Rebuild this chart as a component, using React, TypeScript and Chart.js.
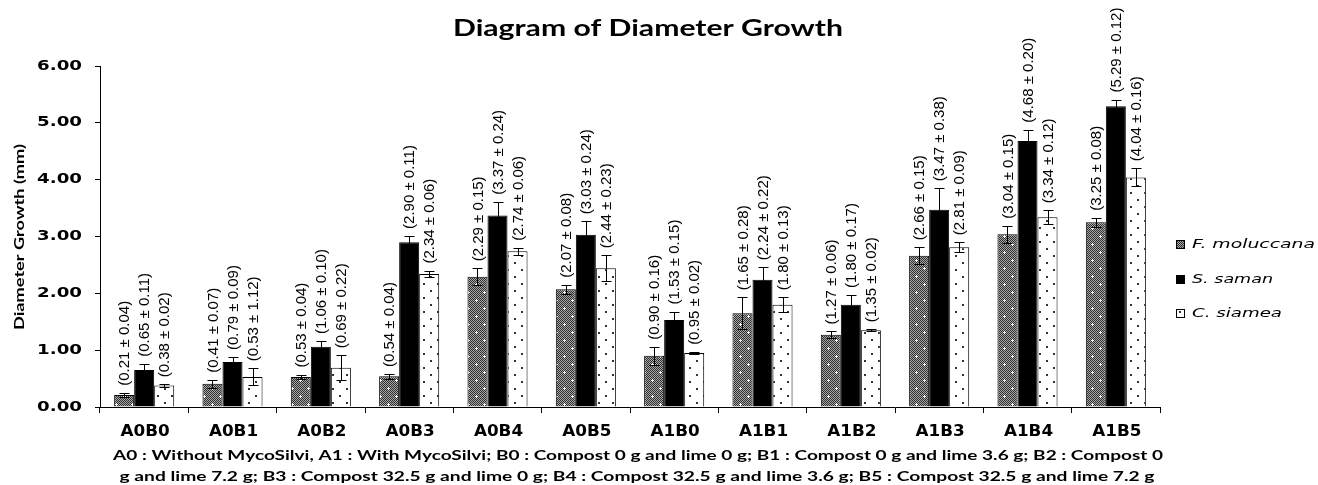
import React, { useEffect, useRef } from "react";
import { Chart, registerables } from "chart.js";

Chart.register(...registerables);

// Treatment combinations along the x axis
const categories = ["A0B0", "A0B1", "A0B2", "A0B3", "A0B4", "A0B5", "A1B0", "A1B1", "A1B2", "A1B3", "A1B4", "A1B5"];

// Mean diameter growth (mm) and standard deviation per species
const moluccanaMean = [0.21, 0.41, 0.53, 0.54, 2.29, 2.07, 0.9, 1.65, 1.27, 2.66, 3.04, 3.25];
const moluccanaSd = [0.04, 0.07, 0.04, 0.04, 0.15, 0.08, 0.16, 0.28, 0.06, 0.15, 0.15, 0.08];
const samanMean = [0.65, 0.79, 1.06, 2.9, 3.37, 3.03, 1.53, 2.24, 1.8, 3.47, 4.68, 5.29];
const samanSd = [0.11, 0.09, 0.1, 0.11, 0.24, 0.24, 0.15, 0.22, 0.17, 0.38, 0.2, 0.12];
const siameaMean = [0.38, 0.53, 0.69, 2.34, 2.74, 2.44, 0.95, 1.8, 1.35, 2.81, 3.34, 4.04];
const siameaSd = [0.02, 1.12, 0.22, 0.06, 0.06, 0.23, 0.02, 0.13, 0.02, 0.09, 0.12, 0.16];
// Whisker half-lengths as plotted (the A0B1 whisker is short despite its printed 1.12)
const siameaWhisker = [0.02, 0.15, 0.22, 0.06, 0.06, 0.23, 0.02, 0.13, 0.02, 0.09, 0.12, 0.16];

const seriesNames = ["F. moluccana", "S. saman", "C. siamea"];
const yTickValues = [0, 1, 2, 3, 4, 5, 6];
const yTickLabels = ["0.00", "1.00", "2.00", "3.00", "4.00", "5.00", "6.00"];

const chartTitle = "Diagram of Diameter Growth";
const yAxisTitle = "Diameter Growth (mm)";
const footnoteLines = [
  "A0 : Without MycoSilvi, A1 : With MycoSilvi; B0 : Compost 0 g and lime 0 g; B1 : Compost 0 g and lime 3.6 g; B2 : Compost 0",
  "g and lime 7.2 g; B3 : Compost 32.5 g and lime 0 g; B4 : Compost 32.5 g and lime 3.6 g; B5 : Compost 32.5 g and lime 7.2 g",
];

function makeMoluccanaPattern(ctx: CanvasRenderingContext2D): CanvasPattern | string {
  const c = document.createElement("canvas");
  c.width = 16;
  c.height = 16;
  const p = c.getContext("2d")!;
  for (let y = 0; y < 16; y++) {
    for (let x = 0; x < 16; x++) {
      p.fillStyle = (x + y) % 2 === 0 ? "#2e2e2e" : "#a8a8a8";
      p.fillRect(x, y, 1, 1);
    }
  }
  p.fillStyle = "#ffffff";
  const plus = (cx: number, cy: number) => {
    p.fillRect(cx - 1, cy, 3, 1);
    p.fillRect(cx, cy - 1, 1, 3);
  };
  plus(4, 4);
  plus(12, 12);
  return ctx.createPattern(c, "repeat") || "#666";
}

function makeSiameaPattern(ctx: CanvasRenderingContext2D): CanvasPattern | string {
  const c = document.createElement("canvas");
  c.width = 14;
  c.height = 14;
  const p = c.getContext("2d")!;
  p.fillStyle = "#ffffff";
  p.fillRect(0, 0, 14, 14);
  p.fillStyle = "#333333";
  p.fillRect(3, 3, 2, 2);
  p.fillRect(10, 10, 2, 2);
  return ctx.createPattern(c, "repeat") || "#fff";
}

type Align = "left" | "center" | "right";

function drawStretched(
  ctx: CanvasRenderingContext2D,
  text: string,
  x: number,
  y: number,
  font: string,
  align: Align,
  opts: { width?: number; scaleX?: number }
) {
  ctx.save();
  ctx.font = font;
  const w = ctx.measureText(text).width;
  const sx = opts.width ? opts.width / w : opts.scaleX || 1;
  ctx.translate(x, y);
  ctx.scale(sx, 1);
  ctx.textAlign = align;
  ctx.textBaseline = "middle";
  ctx.fillStyle = "#000";
  ctx.fillText(text, 0, 0);
  ctx.restore();
}

export default function App() {
  const canvasRef = useRef<HTMLCanvasElement | null>(null);

  useEffect(() => {
    const canvas = canvasRef.current;
    if (!canvas) return;
    const ctx = canvas.getContext("2d")!;
    const fills = [makeMoluccanaPattern(ctx), "#000000", makeSiameaPattern(ctx)];
    const means = [moluccanaMean, samanMean, siameaMean];
    const sds = [moluccanaSd, samanSd, siameaSd];
    const whiskers = [moluccanaSd, samanSd, siameaWhisker];

    const decorations = {
      id: "decorations",
      afterDatasetsDraw(chart: any) {
        const c: CanvasRenderingContext2D = chart.ctx;
        const yScale = chart.scales.y;
        const xScale = chart.scales.x;

        // Error bars and rotated value labels
        chart.data.datasets.forEach((_ds: any, di: number) => {
          const meta = chart.getDatasetMeta(di);
          meta.data.forEach((bar: any, i: number) => {
            const m = means[di][i];
            const e = whiskers[di][i];
            const yTop = yScale.getPixelForValue(m + e);
            const yBot = yScale.getPixelForValue(Math.max(0, m - e));
            const x = Math.round(bar.x) + 0.5;
            c.save();
            c.strokeStyle = "#000";
            c.lineWidth = 1;
            c.beginPath();
            c.moveTo(x, Math.round(yTop) + 0.5);
            c.lineTo(x, Math.round(yBot) + 0.5);
            c.moveTo(x - 5, Math.round(yTop) + 0.5);
            c.lineTo(x + 5, Math.round(yTop) + 0.5);
            c.moveTo(x - 5, Math.round(yBot) + 0.5);
            c.lineTo(x + 5, Math.round(yBot) + 0.5);
            c.stroke();
            c.restore();

            const label = `(${m.toFixed(2)} ± ${sds[di][i].toFixed(2)})`;
            c.save();
            c.translate(bar.x + 1, yTop - 7);
            c.rotate(-Math.PI / 2);
            c.font = "15px 'Liberation Sans', Arial, sans-serif";
            c.textAlign = "left";
            c.textBaseline = "middle";
            c.fillStyle = "#000";
            c.fillText(label, 0, 0);
            c.restore();
          });
        });

        // Title
        drawStretched(c, chartTitle, 648, 29, "bold 23px Lato", "center", { width: 390 });

        // Y tick labels
        yTickValues.forEach((v, i) => {
          drawStretched(c, yTickLabels[i], 82, yScale.getPixelForValue(v), "bold 14px 'DejaVu Sans'", "right", {
            scaleX: 1.3,
          });
        });

        // Y axis title
        c.save();
        c.translate(20, 237);
        c.rotate(-Math.PI / 2);
        drawStretched(c, yAxisTitle, 0, 0, "bold 13px Lato", "center", { width: 186 });
        c.restore();

        // Category labels
        categories.forEach((cat, i) => {
          drawStretched(c, cat, xScale.getPixelForValue(i) + 1, 432, "bold 15px 'DejaVu Sans'", "center", {
            scaleX: 1.12,
          });
        });

        // Footnote
        drawStretched(c, footnoteLines[0], 638, 455, "bold 14px Lato", "center", { width: 1050 });
        drawStretched(c, footnoteLines[1], 637, 476, "bold 14px Lato", "center", { width: 1035 });

        // Legend
        const legendY = [244, 279, 313];
        const legendW = [123, 81, 90];
        seriesNames.forEach((name, i) => {
          c.save();
          c.fillStyle = fills[i] as any;
          c.fillRect(1176, legendY[i] - 4, 9, 9);
          c.strokeStyle = "#000";
          c.lineWidth = 1;
          c.strokeRect(1176.5, legendY[i] - 3.5, 8, 8);
          c.restore();
          drawStretched(c, name, 1192, legendY[i] + 1, "oblique 13px 'DejaVu Sans'", "left", { width: legendW[i] });
        });
      },
    };

    const chart = new Chart(ctx, {
      type: "bar",
      data: {
        labels: categories,
        datasets: seriesNames.map((name, i) => ({
          label: name,
          data: means[i],
          backgroundColor: fills[i] as any,
          borderColor: "#000",
          borderWidth: 1,
          categoryPercentage: 0.68,
          barPercentage: 1,
        })),
      },
      options: {
        responsive: false,
        devicePixelRatio: 1,
        animation: false,
        layout: { padding: { top: 66, right: 158, left: 0, bottom: 0 } },
        plugins: {
          legend: { display: false },
          title: { display: false },
          tooltip: { enabled: false },
        },
        scales: {
          x: {
            grid: {
              display: true,
              drawOnChartArea: false,
              drawTicks: true,
              tickLength: 6,
              color: "#000",
              offset: true,
            },
            border: { color: "#000", width: 1 },
            ticks: { display: false },
            afterFit: (scale: any) => {
              scale.height = 78;
            },
          },
          y: {
            min: 0,
            max: 6,
            ticks: { display: false, stepSize: 1 },
            grid: {
              display: true,
              drawOnChartArea: false,
              drawTicks: true,
              tickLength: 5,
              color: "#000",
            },
            border: { color: "#000", width: 1 },
            afterFit: (scale: any) => {
              scale.width = 100;
            },
          },
        },
      },
      plugins: [decorations],
    });

    return () => chart.destroy();
  }, []);

  return (
    <div style={{ position: "fixed", left: 0, top: 0, width: 1318, height: 485, background: "#fff" }}>
      <canvas ref={canvasRef} width={1318} height={485} />
    </div>
  );
}
